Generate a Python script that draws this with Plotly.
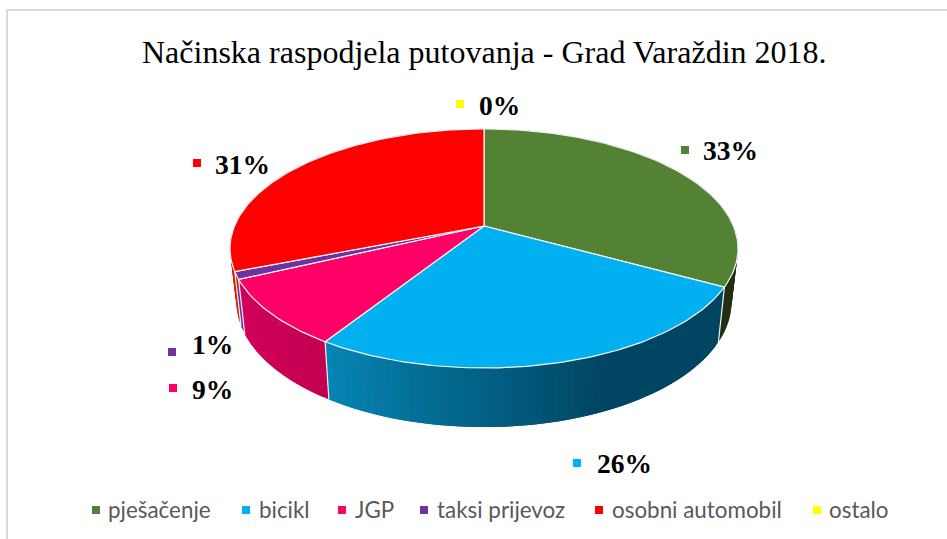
import math
import plotly.graph_objects as go

categories = ["pješačenje", "bicikl", "JGP", "taksi prijevoz", "osobni automobil", "ostalo"]
shares = [33, 26, 9, 1, 31, 0]
title_text = "Načinska raspodjela putovanja - Grad Varaždin 2018."

top_colors = ["#548235", "#00B0F0", "#FF0066", "#7030A0", "#FF0000", "#FFFF00"]
wall_stops = [
    [(0, "#222f12"), (1, "#222f12")],
    [(0, "#004561"), (0.40, "#004561"), (1, "#0686b5")],
    [(0, "#c40050"), (1, "#d2005c")],
    [(0, "#6a2f9c"), (1, "#6a2f9c")],
    [(0, "#d81c00"), (1, "#d81c00")],
    [(0, "#cccc00"), (1, "#cccc00")],
]

# pixel layout of the drawing
TOP = dict(a=249.5, b=115.3, cx=484, cy=226, k=0.188)
BOT = dict(a=243.0, b=120.8, cx=484, cy=278, k=0.19)
label_marks = [(685, 150), (577, 463), (173, 388), (172, 352), (197, 163), (460, 104)]
label_text_x = [703, 597, 192, 192, 215, 479]
label_text_y = [153, 466, 392, 347, 167, 108]
legend_marks = [96, 246, 342, 424, 599, 817]
legend_text_x = [108, 259, 355, 437, 612, 829]
LEGEND_MARK_Y = 510
LEGEND_TEXT_Y = 512


def project(theta, p):
    u, v = math.sin(theta), math.cos(theta)
    w = 1 + p["k"] * v
    return p["cx"] + p["a"] * u / w, p["cy"] - p["b"] * v / w


def hex_rgb(c):
    return tuple(int(c[i:i + 2], 16) for i in (1, 3, 5))


def stop_color(stops, f):
    for (f0, c0), (f1, c1) in zip(stops, stops[1:]):
        if f <= f1:
            t = 0 if f1 == f0 else (f - f0) / (f1 - f0)
            a, b = hex_rgb(c0), hex_rgb(c1)
            return "rgb(%d,%d,%d)" % tuple(round(a[i] + (b[i] - a[i]) * t) for i in range(3))
    return stops[-1][1]


fig = go.Figure()
total = sum(shares)
cum = 0
spans = []
for s in shares:
    spans.append((2 * math.pi * cum / total, 2 * math.pi * (cum + s) / total))
    cum += s

# side walls: each strip reaches under the next one, which paints over it, so no seams show
STEP = math.radians(1.5)
for (t0, t1), stops in zip(spans, wall_stops):
    if t1 <= t0:
        continue
    n = max(1, int((t1 - t0) / STEP))
    d = (t1 - t0) / n
    for i in range(n):
        a0 = t0 + d * i
        a1 = min(t1, a0 + 2 * d)
        col = stop_color(stops, (i + 0.5) / n)
        pts = [project(a0, TOP), project(a1, TOP), project(a1, BOT), project(a0, BOT), project(a0, TOP)]
        fig.add_trace(go.Scatter(
            x=[q[0] for q in pts], y=[q[1] for q in pts], mode="lines", fill="toself",
            fillcolor=col, line=dict(width=0), hoverinfo="skip", showlegend=False))

# wall separators
for t0, t1 in spans:
    if t1 <= t0:
        continue
    p0, p1 = project(t0, TOP), project(t0, BOT)
    if math.cos(t0) < 0.3:
        fig.add_trace(go.Scatter(x=[p0[0], p1[0]], y=[p0[1], p1[1]], mode="lines",
                                 line=dict(color="#f2f2f2", width=1.2), hoverinfo="skip", showlegend=False))

# top faces
for (t0, t1), col, name in zip(spans, top_colors, categories):
    if t1 <= t0:
        continue
    n = max(2, int((t1 - t0) / math.radians(1)))
    rim = [project(t0 + (t1 - t0) * i / n, TOP) for i in range(n + 1)]
    xs = [TOP["cx"]] + [q[0] for q in rim] + [TOP["cx"]]
    ys = [TOP["cy"]] + [q[1] for q in rim] + [TOP["cy"]]
    fig.add_trace(go.Scatter(x=xs, y=ys, mode="lines", fill="toself", fillcolor=col, name=name,
                             line=dict(color="#f4f4f4", width=1.2), hoverinfo="name", showlegend=False))

# data labels
fig.add_trace(go.Scatter(x=[p[0] for p in label_marks], y=[p[1] for p in label_marks], mode="markers",
                         marker=dict(symbol="square", size=8, color=top_colors), hoverinfo="skip", showlegend=False))
fig.add_trace(go.Scatter(x=label_text_x, y=label_text_y, mode="text", text=[f"{s}%" for s in shares],
                         textposition="middle right",
                         textfont=dict(family="Liberation Serif", size=27.5, color="#000000", weight="bold"),
                         hoverinfo="skip", showlegend=False))

# legend row
fig.add_trace(go.Scatter(x=legend_marks, y=[LEGEND_MARK_Y] * 6, mode="markers",
                         marker=dict(symbol="square", size=8, color=top_colors), hoverinfo="skip", showlegend=False))
fig.add_trace(go.Scatter(x=legend_text_x, y=[LEGEND_TEXT_Y] * 6, mode="text", text=categories,
                         textposition="middle right",
                         textfont=dict(family="Lato", size=22.4, color="#595959"),
                         hoverinfo="skip", showlegend=False))

fig.update_layout(
    width=947, height=539, margin=dict(l=0, r=0, t=0, b=0),
    paper_bgcolor="#ffffff", plot_bgcolor="#ffffff",
    xaxis=dict(range=[0, 947], visible=False, fixedrange=True),
    yaxis=dict(range=[539, 0], visible=False, fixedrange=True),
    shapes=[dict(type="path", xref="x", yref="y", path="M 947 10 L 7 10 L 7 539",
                 line=dict(color="#d9d9d9", width=2), layer="below")],
    annotations=[dict(text=title_text, x=484, y=52, xref="x", yref="y", showarrow=False,
                      font=dict(family="Liberation Serif", size=32, color="#000000"))],
)
fig.write_html("out.html", config=dict(displayModeBar=False),
               post_script="document.body.style.margin='0';document.documentElement.style.overflow='hidden';")
